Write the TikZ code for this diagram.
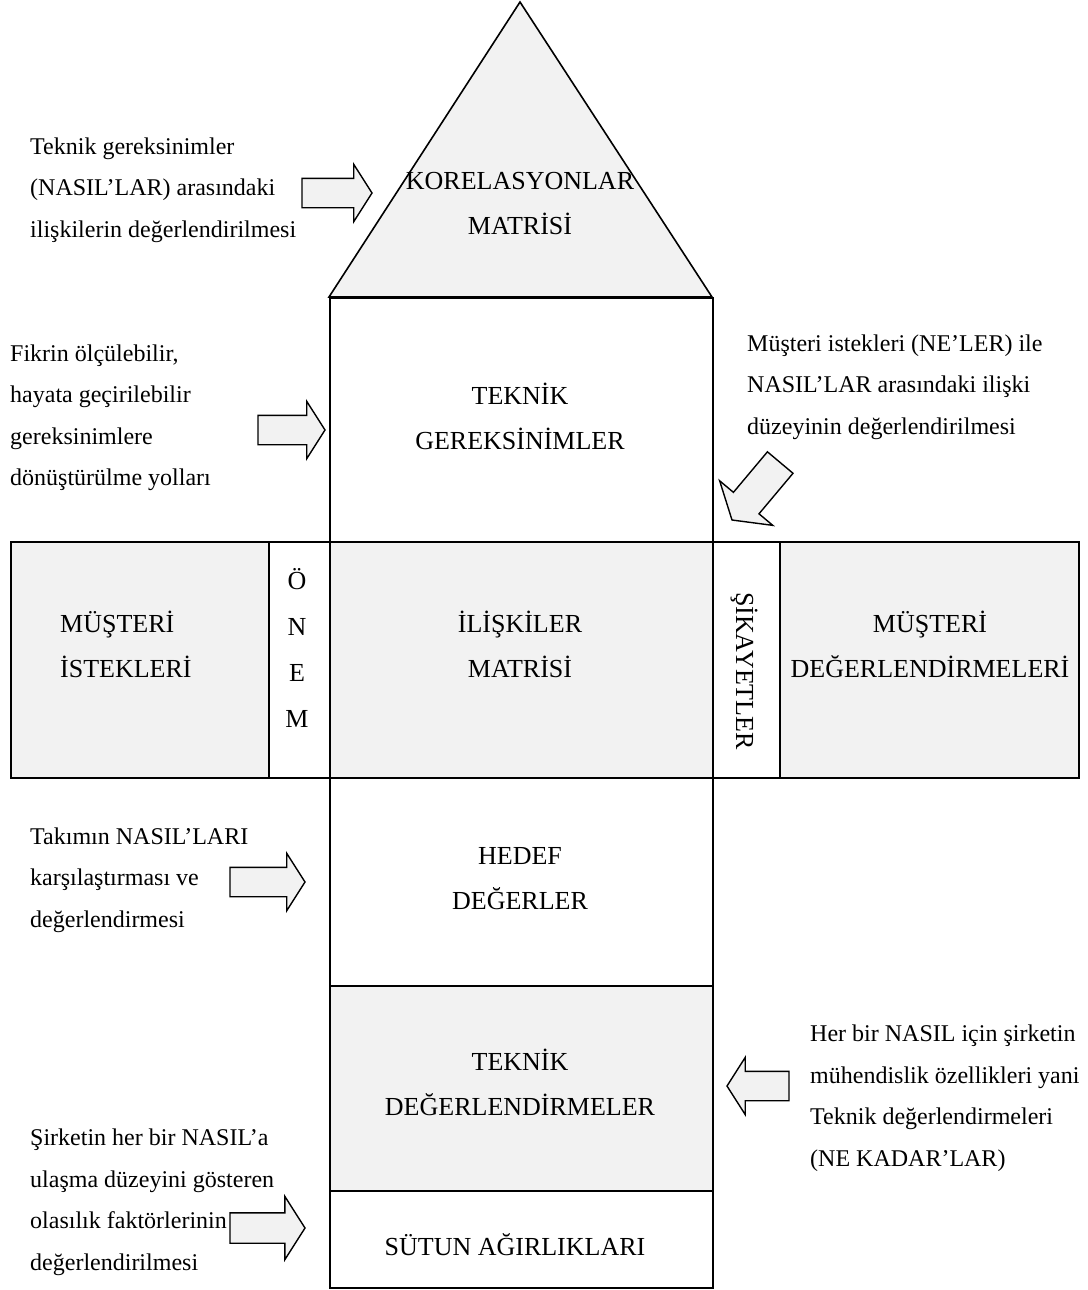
\documentclass[tikz,border=0pt]{standalone}
\usepackage{fontspec}
\setmainfont{Liberation Serif}
\usetikzlibrary{shapes.arrows}
\definecolor{panel gray}{RGB}{242,242,242}
\tikzset{box node/.style={rectangle, draw, line width=1.6pt, inner sep=0pt, anchor=north west}}
\tikzset{shaded node/.style={box node, fill=panel gray}}
\tikzset{box label/.style={font=\fontsize{26}{45}\selectfont, align=center, inner sep=0pt}}
\tikzset{side label/.style={font=\fontsize{24}{41.5}\selectfont, align=left, anchor=west, inner sep=0pt}}
\tikzset{block arrow/.style={single arrow, draw, fill=panel gray, line width=1.4pt,
    inner xsep=0pt, inner ysep=14pt, outer sep=0pt, single arrow head extend=14pt,
    single arrow tip angle=115, minimum height=#1, anchor=tip}}

\begin{document}
\begin{tikzpicture}
  [x=1pt, y=-1pt]
  \useasboundingbox (0,0) rectangle (1087,1290);

  % roof
  \coordinate (roofl) at (329,297);
  \coordinate (roofr) at (712,297);
  \coordinate (apex)  at (520,2);
  \draw [line width=1.6pt, fill=panel gray] (roofl) -- (apex) -- (roofr) -- cycle;

  % house body
  \node [box node,    minimum width=383, minimum height=244] (req)    at (329, 297) {};
  \node [shaded node, minimum width=258, minimum height=236] (cust)   at ( 10, 541) {};
  \node [box node,    minimum width=61,  minimum height=236] (imp)    at (268, 541) {};
  \node [shaded node, minimum width=383, minimum height=236] (rel)    at (329, 541) {};
  \node [box node,    minimum width=67,  minimum height=236] (compl)  at (712, 541) {};
  \node [shaded node, minimum width=299, minimum height=236] (eval)   at (779, 541) {};
  \node [box node,    minimum width=383, minimum height=208] (target) at (329, 777) {};
  \node [shaded node, minimum width=383, minimum height=205] (tech)   at (329, 985) {};
  \node [box node,    minimum width=383, minimum height=97]  (col)    at (329,1190) {};

  % box texts
  \node [box label]                              (roof text)   at (520, 204) {KORELASYONLAR\\MATRİSİ};
  \node [box label]                              (req text)    at (520, 416) {TEKNİK\\GEREKSİNİMLER};
  \node [box label, align=left, anchor=west]     (cust text)   at ( 60, 644) {MÜŞTERİ\\İSTEKLERİ};
  \node [box label, font=\fontsize{26}{46}\selectfont] (imp text) at (297, 648) {Ö\\N\\E\\M};
  \node [box label]                              (rel text)    at (520, 644) {İLİŞKİLER\\MATRİSİ};
  \node [box label, rotate=-90]                  (compl text)  at (744, 671) {ŞİKAYETLER};
  \node [box label]                              (eval text)   at (930, 644) {MÜŞTERİ\\DEĞERLENDİRMELERİ};
  \node [box label]                              (target text) at (520, 879) {HEDEF\\DEĞERLER};
  \node [box label]                              (tech text)   at (520,1082) {TEKNİK\\DEĞERLENDİRMELER};
  \node [box label]                              (col text)    at (515,1245) {SÜTUN AĞIRLIKLARI};

  % notes
  \node [side label] (note1) at ( 30, 190) {Teknik gereksinimler\\(NASIL’LAR) arasındaki\\ilişkilerin değerlendirilmesi};
  \node [side label] (note2) at ( 10, 418) {Fikrin ölçülebilir,\\hayata geçirilebilir\\gereksinimlere\\dönüştürülme yolları};
  \node [side label] (note3) at (747, 387) {Müşteri istekleri (NE’LER) ile\\NASIL’LAR arasındaki ilişki\\düzeyinin değerlendirilmesi};
  \node [side label] (note4) at ( 30, 880) {Takımın NASIL’LARI\\karşılaştırması ve\\değerlendirmesi};
  \node [side label] (note5) at (810,1098) {Her bir NASIL için şirketin\\mühendislik özellikleri yani\\Teknik değerlendirmeleri\\(NE KADAR’LAR)};
  \node [side label] (note6) at ( 30,1202) {Şirketin her bir NASIL’a\\ulaşma düzeyini gösteren\\olasılık faktörlerinin\\değerlendirilmesi};

  % pointers
  \node [block arrow=70]                       (arr1) at (372, 193) {};
  \node [block arrow=67]                       (arr2) at (325, 430) {};
  \node [block arrow=75, rotate=230, inner ysep=16pt,
         single arrow head extend=18pt]        (arr3) at (732, 520) {};
  \node [block arrow=75]                       (arr4) at (305, 882) {};
  \node [block arrow=62, rotate=180]           (arr5) at (727,1086) {};
  \node [block arrow=75, inner ysep=14.5pt,
         single arrow head extend=16.5pt]      (arr6) at (305,1228) {};
\end{tikzpicture}
\end{document}
